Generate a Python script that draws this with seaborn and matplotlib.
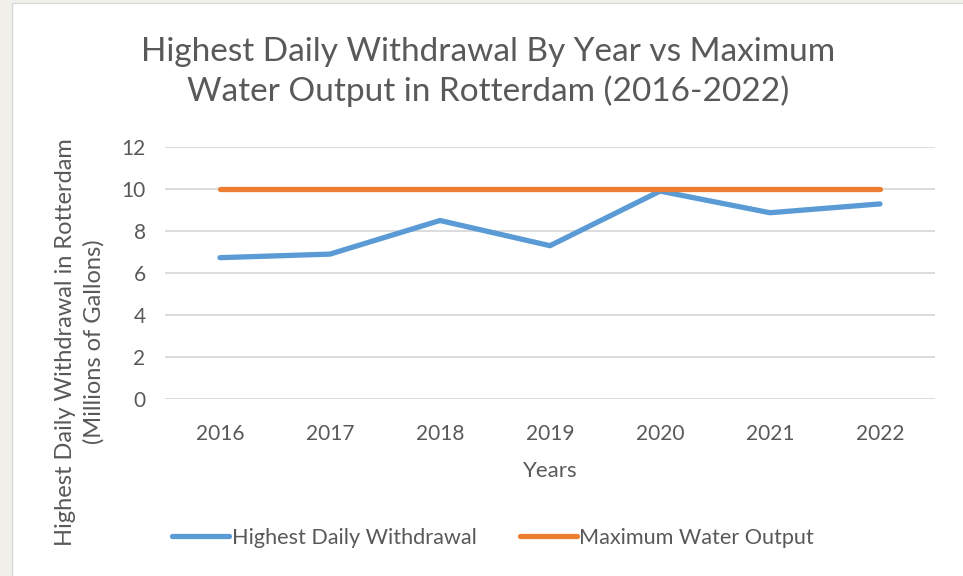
import pandas as pd
import numpy as np
import matplotlib.pyplot as plt
import seaborn as sns
from matplotlib.patches import Rectangle

# Datos
years = ['2016', '2017', '2018', '2019', '2020', '2021', '2022']
highest_withdrawal = [6.73, 6.9, 8.5, 7.3, 9.9, 8.87, 9.29]
max_output = [10, 10, 10, 10, 10, 10, 10]
series_names = ['Highest Daily Withdrawal', 'Maximum Water Output']

df = pd.DataFrame({
    'year': years * 2,
    'value': highest_withdrawal + max_output,
    'serie': [series_names[0]] * len(years) + [series_names[1]] * len(years),
})

sns.set_style('white')
plt.rcParams['font.family'] = ['Lato', 'DejaVu Sans']
gris = '#595959'

fig = plt.figure(figsize=(9.63, 5.76), dpi=100, facecolor='#f2f0eb')
# Fondo blanco del área del gráfico (estilo Excel)
fig.patches.append(Rectangle((12 / 963, -0.01), 1.0, 1 - 3 / 576 + 0.01,
                             transform=fig.transFigure, facecolor='white',
                             edgecolor='#d9d9d9', linewidth=1, zorder=-5))

ax = fig.add_axes([165 / 963, 1 - 399 / 576, 770 / 963, 252 / 576])
ax.set_facecolor('none')
sns.lineplot(data=df, x='year', y='value', hue='serie', palette=['#5B9BD5', '#ED7D31'],
             linewidth=3.8, ax=ax, legend=False, solid_capstyle='round', sort=False)

ax.set_xlim(-0.5, 6.5)
ax.set_ylim(0, 12)
ax.set_yticks(np.arange(0, 13, 2))
ax.grid(axis='y', color='#d9d9d9', linewidth=1.3)
ax.set_axisbelow(True)
sns.despine(ax=ax, left=True, bottom=True)
ax.tick_params(length=0, labelsize=15, colors=gris, pad=14)
ax.tick_params(axis='x', pad=18)
ax.set_xlabel('Years', fontsize=16, color=gris, labelpad=12)
ax.set_ylabel('')

fig.text(488 / 963, 1 - 72 / 576, 'Highest Daily Withdrawal By Year vs Maximum\nWater Output in Rotterdam (2016-2022)',
         ha='center', va='center', fontsize=24, color=gris, linespacing=1.3)
fig.text(80 / 963, 1 - 342 / 576, 'Highest Daily Withdrawal in Rotterdam\n(Millions of Gallons)',
         ha='center', va='center', rotation=90, fontsize=17, color=gris, linespacing=1.4)

handles = [plt.Line2D([], [], color='#5B9BD5', linewidth=3.8, solid_capstyle='round'),
           plt.Line2D([], [], color='#ED7D31', linewidth=3.8, solid_capstyle='round')]
fig.legend(handles, series_names, loc='center', bbox_to_anchor=(493 / 963, 1 - 538 / 576),
           ncol=2, frameon=False, fontsize=15.6, handlelength=2.65, handletextpad=0.1,
           columnspacing=2.0, labelcolor=gris)

plt.savefig('out.png', dpi=100, facecolor=fig.get_facecolor())
plt.close()
